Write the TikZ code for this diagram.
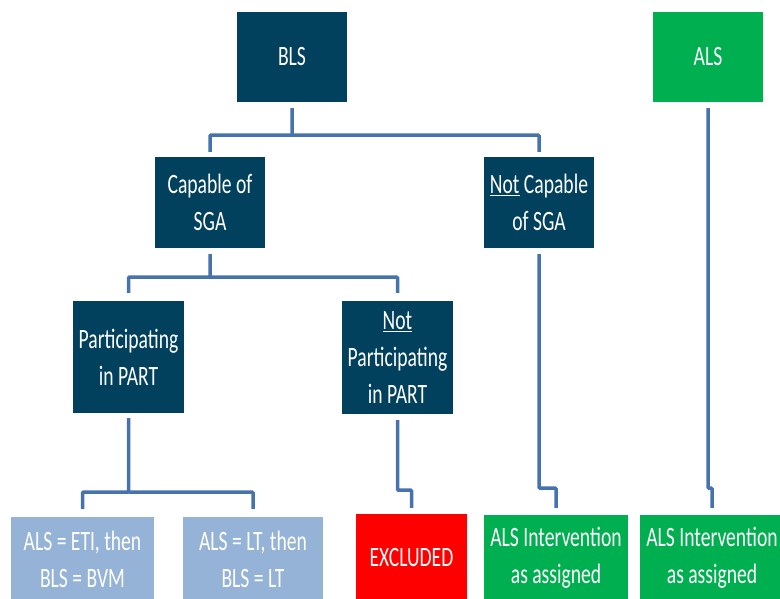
\documentclass[tikz,border=0pt]{standalone}
\usepackage{fontspec}
\setmainfont{Carlito}[FakeStretch=0.7]
\definecolor{navy}{HTML}{02415E}
\definecolor{lightblue}{HTML}{95B3D7}
\definecolor{grn}{HTML}{00B050}
\definecolor{rd}{HTML}{FF0000}
\definecolor{linec}{HTML}{4672AE}
\tikzset{
  box/.style={inner sep=0pt, align=center, text=white,
    font=\fontsize{28}{37}\selectfont},
  navybox/.style={box, fill=navy},
  lbbox/.style={box, fill=lightblue},
  gbox/.style={box, fill=grn},
  rbox/.style={box, fill=rd},
  conn/.style={draw=linec, line width=3.5pt, rounded corners=1pt}
}
\begin{document}
\begin{tikzpicture}[x=1pt,y=-1pt]
\useasboundingbox[fill=white] (0,0) rectangle (780,599);
\begin{scope}
\clip (0,0) rectangle (780,599);
\node[navybox, minimum width=110pt, minimum height=90pt] (bls) at (292,57) {BLS};
\node[gbox, minimum width=110pt, minimum height=90pt] (als) at (708,57) {ALS};
\node[navybox, minimum width=110pt, minimum height=91pt] (cap) at (210,202.5) {Capable of\\SGA};
\node[navybox, minimum width=110pt, minimum height=91pt] (ncap) at (539,202.5) {\underline{Not} Capable\\of SGA};
\node[navybox, minimum width=111pt, minimum height=112pt] (part) at (128.5,357) {Participating\\in PART};
\node[navybox, minimum width=111pt, minimum height=113pt] (np) at (397.5,357.5) {\underline{Not}\\Participating\\in PART};
\node[lbbox, minimum width=143pt, minimum height=84pt] (eti) at (82.5,559) {ALS = ETI, then\\BLS = BVM};
\node[lbbox, minimum width=140pt, minimum height=84pt] (lt) at (253,559) {ALS = LT, then\\BLS = LT};
\node[rbox, minimum width=111pt, minimum height=87pt] (exc) at (411.5,557.5) {EXCLUDED};
\node[gbox, minimum width=144pt, minimum height=86pt] (g1) at (556,558) {ALS Intervention\\as assigned};
\node[gbox, minimum width=144pt, minimum height=86pt] (g2) at (712,558) {ALS Intervention\\as assigned};
\end{scope}
% connectors
\draw[conn] ([yshift=-6pt]bls.south) -- ([yshift=-33pt]bls.south) -| ([yshift=5pt]cap.north);
\draw[conn] ([yshift=-33pt]bls.south) -| ([yshift=5pt]ncap.north);
\draw[conn] ([yshift=-6pt]cap.south) -- ([yshift=-29pt]cap.south) -| ([yshift=8pt]part.north);
\draw[conn] ([yshift=-29pt]cap.south) -| ([yshift=8pt]np.north);
\draw[conn] ([yshift=-5pt]part.south) -- ([yshift=-79pt]part.south) -| ([yshift=8pt]eti.north);
\draw[conn] ([yshift=-79pt]part.south) -| ([yshift=8pt]lt.north);
\draw[conn] ([yshift=-6pt]np.south) -- ([yshift=-76pt]np.south) -| ([yshift=6pt]exc.north);
\draw[conn] ([yshift=-6pt]ncap.south) -- ([yshift=-240pt]ncap.south) -| ([yshift=7pt]g1.north);
\draw[conn] ([yshift=-6pt]als.south) -- ([yshift=-386pt]als.south) -| ([yshift=7pt]g2.north);
\end{tikzpicture}
\end{document}
